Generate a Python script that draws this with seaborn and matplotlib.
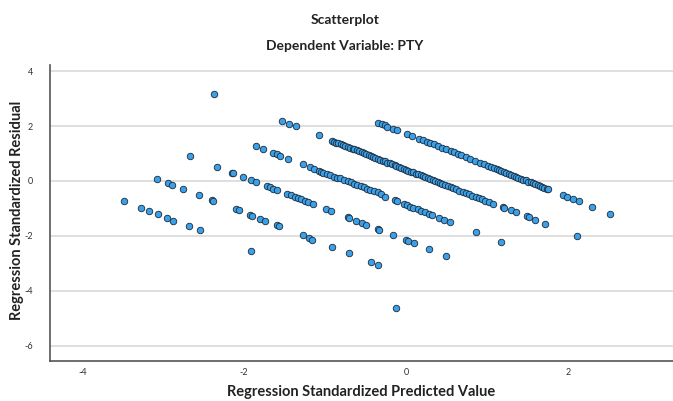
import matplotlib
matplotlib.use("Agg")
import matplotlib.pyplot as plt
import seaborn as sns
import pandas as pd

# ---- data (standardized predicted value, standardized residual) ----
band_a_x = [-0.34, -0.30, -0.26, -0.23, -0.16, -0.11, 0.01, 0.07, 0.16, 0.21, 0.26, 0.30, 0.34, 0.40,
            0.45, 0.50, 0.55, 0.59, 0.64, 0.68, 0.74, 0.79, 0.85, 0.91, 0.96, 1.01, 1.05, 1.09, 1.12,
            1.15, 1.18, 1.21, 1.24, 1.27, 1.30, 1.33, 1.36, 1.39, 1.42, 1.45, 1.48, 1.51, 1.54, 1.57,
            1.60, 1.63, 1.66, 1.68, 1.71, 1.74, 1.76, 1.94, 1.99, 2.06, 2.14, 2.30, 2.52]
band_a_y = [2.11, 2.07, 2.02, 1.98, 1.90, 1.85, 1.71, 1.64, 1.54, 1.48, 1.42, 1.38, 1.33, 1.26,
            1.20, 1.15, 1.09, 1.04, 0.98, 0.94, 0.87, 0.81, 0.74, 0.67, 0.62, 0.56, 0.51, 0.47, 0.43,
            0.40, 0.36, 0.33, 0.29, 0.26, 0.22, 0.19, 0.16, 0.12, 0.09, 0.05, 0.02, -0.02, -0.05, -0.09,
            -0.12, -0.15, -0.19, -0.21, -0.25, -0.28, -0.30, -0.52, -0.58, -0.65, -0.74, -0.93, -1.19]

band_b_x = [-2.37, -1.53, -1.44, -1.36, -1.08,
            -0.92, -0.89, -0.86, -0.84, -0.80, -0.78, -0.75, -0.72, -0.69, -0.66, -0.64, -0.61, -0.58,
            -0.55, -0.52, -0.49, -0.46, -0.43, -0.41, -0.38, -0.35, -0.32, -0.29, -0.26, -0.23, -0.20,
            -0.17, -0.14, -0.12, -0.09, -0.06, -0.03, 0.00, 0.03, 0.06, 0.09, 0.12, 0.15, 0.18, 0.21,
            0.24, 0.27, 0.30, 0.33, 0.36, 0.39, 0.42, 0.45, 0.48, 0.52, 0.55, 0.58, 0.62, 0.66, 0.70,
            0.74, 0.78, 0.82, 0.86, 0.90, 0.94, 0.98, 1.03, 1.08,
            1.20, 1.21, 1.30, 1.36, 1.49, 1.52, 1.59, 1.72, 2.11]
band_b_y = [3.15, 2.18, 2.08, 1.99, 1.66,
            1.47, 1.43, 1.40, 1.38, 1.33, 1.31, 1.27, 1.24, 1.20, 1.17, 1.15, 1.11, 1.08,
            1.04, 1.01, 0.97, 0.94, 0.90, 0.88, 0.85, 0.81, 0.78, 0.74, 0.71, 0.67, 0.64,
            0.61, 0.57, 0.55, 0.51, 0.48, 0.44, 0.41, 0.38, 0.34, 0.31, 0.27, 0.24, 0.20, 0.17,
            0.13, 0.10, 0.06, 0.03, 0.00, -0.04, -0.07, -0.11, -0.14, -0.19, -0.22, -0.26, -0.30, -0.35, -0.40,
            -0.44, -0.49, -0.53, -0.58, -0.63, -0.67, -0.72, -0.77, -0.83,
            -0.96, -0.97, -1.07, -1.14, -1.28, -1.32, -1.41, -1.56, -2.00]

band_c_x = [-1.86, -1.77, -1.65, -1.60, -1.56, -1.46, -1.27,
            -1.19, -1.14, -1.08, -1.05, -1.02, -0.98, -0.94, -0.89, -0.85, -0.81, -0.77, -0.72, -0.68,
            -0.64, -0.60, -0.56, -0.52, -0.48, -0.44, -0.40, -0.35, -0.31, -0.26, -0.14, -0.11, -0.03,
            0.01, 0.05, 0.09, 0.15, 0.19, 0.24, 0.28, 0.32, 0.41, 0.47, 0.54, 0.87, 1.17]
band_c_y = [1.27, 1.17, 1.03, 0.97, 0.92, 0.81, 0.61,
            0.51, 0.44, 0.37, 0.34, 0.30, 0.25, 0.22, 0.16, 0.12, 0.10, 0.04, 0.00, -0.05,
            -0.10, -0.15, -0.19, -0.23, -0.28, -0.33, -0.36, -0.41, -0.46, -0.58, -0.69, -0.73, -0.84,
            -0.88, -0.93, -0.97, -1.03, -1.08, -1.14, -1.20, -1.25, -1.36, -1.43, -1.50, -1.87, -2.21]

band_d_x = [-2.67, -2.34, -2.15, -2.14, -2.02, -1.92, -1.85, -1.72, -1.68, -1.64, -1.59, -1.47, -1.42,
            -1.37, -1.34, -1.30, -1.25, -1.21, -1.15, -0.99, -0.93, -0.72, -0.70, -0.62, -0.55, -0.49,
            -0.35, -0.33, -0.16, 0.00, 0.02, 0.10, 0.28, 0.49]
band_d_y = [0.91, 0.52, 0.30, 0.30, 0.16, 0.05, -0.03, -0.17, -0.22, -0.28, -0.33, -0.47, -0.52,
            -0.58, -0.62, -0.67, -0.74, -0.77, -0.84, -1.02, -1.09, -1.32, -1.36, -1.45, -1.54, -1.61,
            -1.76, -1.78, -1.97, -2.16, -2.18, -2.27, -2.47, -2.72]

band_e_x = [-3.08, -2.94, -2.89, -2.76, -2.56, -2.40, -2.38, -2.10, -2.07, -1.93, -1.90, -1.81, -1.74,
            -1.60, -1.57, -1.27, -1.20, -1.16, -0.91, -0.70, -0.43, -0.35]
band_e_y = [0.08, -0.08, -0.13, -0.28, -0.51, -0.69, -0.72, -1.03, -1.07, -1.23, -1.27, -1.38, -1.45,
            -1.60, -1.64, -1.97, -2.08, -2.13, -2.40, -2.63, -2.96, -3.05]

band_f_x = [-3.49, -3.28, -3.18, -3.07, -2.95, -2.88, -2.68, -2.54, -1.91, -0.12]
band_f_y = [-0.73, -0.97, -1.09, -1.21, -1.36, -1.44, -1.64, -1.80, -2.53, -4.62]

y_ticks = [-6, -4, -2, 0, 2, 4]
x_ticks = [-4, -2, 0, 2]

title_main = "Scatterplot"
title_sub = "Dependent Variable: PTY"
x_label = "Regression Standardized Predicted Value"
y_label = "Regression Standardized Residual"

df = pd.DataFrame({
    "pred": band_a_x + band_b_x + band_c_x + band_d_x + band_e_x + band_f_x,
    "resid": band_a_y + band_b_y + band_c_y + band_d_y + band_e_y + band_f_y,
})

sns.set_style("white")
plt.rcParams["font.family"] = ["Lato", "DejaVu Sans"]

fig = plt.figure(figsize=(6.73, 4.01), dpi=100)
ax = fig.add_axes([50 / 673, 1 - 361 / 401, 1 - 50 / 673, (361 - 65) / 401])

sns.scatterplot(data=df, x="pred", y="resid", ax=ax, s=22, color="#3aa0e8",
                edgecolor="#1b2a3a", linewidth=0.6, zorder=3)

ax.set_xlim(-4.40, 3.30)
ax.set_ylim(-6.55, 4.22)
ax.set_xticks(x_ticks)
ax.set_yticks(y_ticks)
ax.set_xticklabels([f"{t}" for t in x_ticks])
ax.set_yticklabels([f"{t}" for t in y_ticks])
ax.tick_params(axis="both", length=0, labelsize=6.5, colors="#333333")
ax.tick_params(axis="y", pad=12)
ax.tick_params(axis="x", pad=5)
ax.yaxis.grid(True, color="#d6d6d6", linewidth=1.1, zorder=0)
ax.xaxis.grid(False)
ax.set_axisbelow(True)
for side in ["top", "right"]:
    ax.spines[side].set_visible(False)
for side in ["left", "bottom"]:
    ax.spines[side].set_color("#555555")
    ax.spines[side].set_linewidth(1.2)

ax.set_xlabel("")
ax.set_ylabel("")
fig.text(361 / 673, 1 - 392 / 401, x_label, ha="center", va="center",
         fontsize=10.5, fontweight="bold", color="#222222")
fig.text(17 / 673, 1 - 210 / 401, y_label, ha="center", va="center", rotation=90,
         fontsize=10.5, fontweight="bold", color="#222222")

fig.text(345 / 673, 1 - 20 / 401, title_main, ha="center", va="center",
         fontsize=10, fontweight="bold", color="#222222")
fig.text(345 / 673, 1 - 46 / 401, title_sub, ha="center", va="center",
         fontsize=10, fontweight="bold", color="#222222")

fig.savefig("out.png", dpi=100)
